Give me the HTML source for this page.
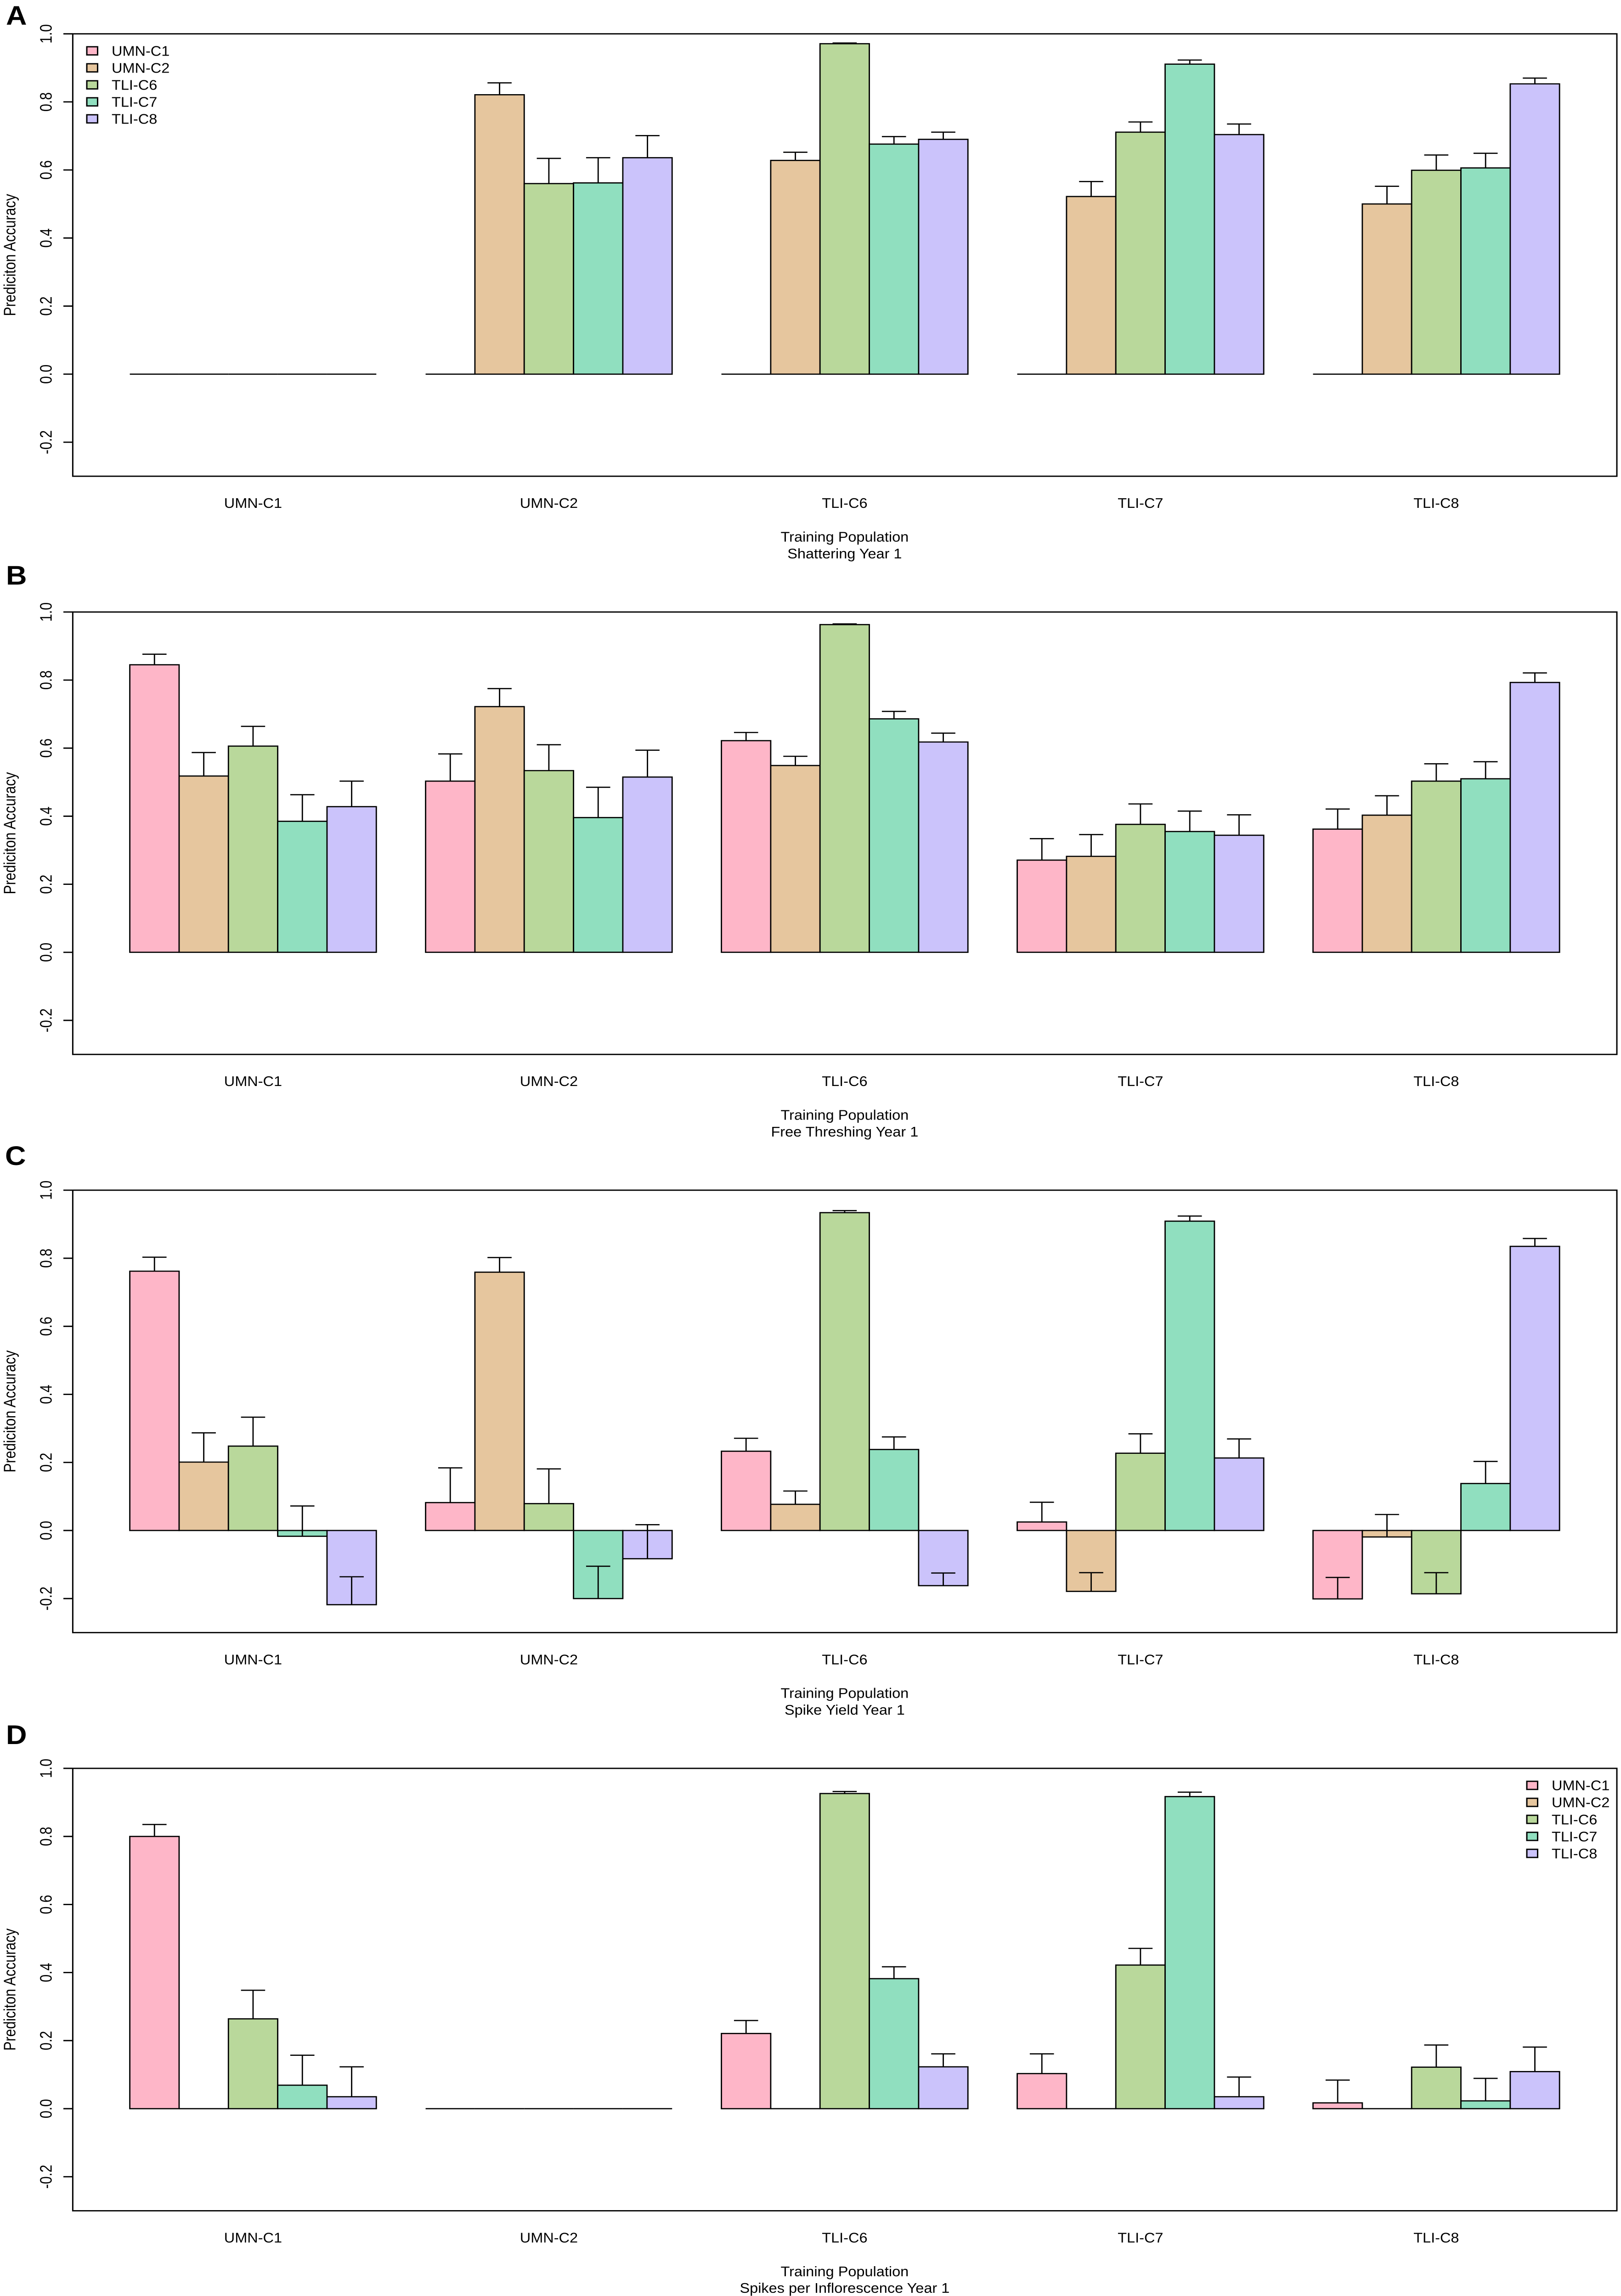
<!DOCTYPE html>
<html lang="en">
<head>
<meta charset="utf-8">
<title>Prediction accuracy by training population</title>
<style>
html,body{margin:0;padding:0;background:#fff;width:3529px;height:100%;max-height:5361px;overflow:hidden;}
svg{display:block;overflow:hidden;width:3529px;height:min(5361px,100vh);font-family:"Liberation Sans",Arial,sans-serif;}
text{fill:#000;}
script{display:none;}
</style>
</head>
<body>
<svg id="figure" xmlns="http://www.w3.org/2000/svg" viewBox="0 0 3529 5361" preserveAspectRatio="none">
<rect x="0" y="0" width="3529" height="5361" fill="#ffffff"/>
</svg>
<script>
// ---- shared labels ----
const categories = ['UMN-C1', 'UMN-C2', 'TLI-C6', 'TLI-C7', 'TLI-C8'];
const seriesNames = ['UMN-C1', 'UMN-C2', 'TLI-C6', 'TLI-C7', 'TLI-C8'];
const yTickValues = [-0.2, 0, 0.2, 0.4, 0.6, 0.8, 1.0];
const yTickLabels = ['-0.2', '0.0', '0.2', '0.4', '0.6', '0.8', '1.0'];
const yAxisTitle = 'Prediciton Accuracy';
const xAxisTitle = 'Training Population';

// ---- Panel A: Shattering Year 1 (one row per training population, one column per series) ----
const shatteringValues = [
  [0, 0, 0, 0, 0],
  [0, 0.821, 0.560, 0.562, 0.636],
  [0, 0.628, 0.971, 0.676, 0.690],
  [0, 0.522, 0.711, 0.911, 0.704],
  [0, 0.500, 0.599, 0.606, 0.853]
];
const shatteringUpper = [
  [null, null, null, null, null],
  [null, 0.856, 0.634, 0.636, 0.701],
  [null, 0.652, 0.973, 0.698, 0.711],
  [null, 0.566, 0.741, 0.923, 0.735],
  [null, 0.552, 0.644, 0.649, 0.870]
];

// ---- Panel B: Free Threshing Year 1 ----
const threshingValues = [
  [0.845, 0.518, 0.606, 0.385, 0.428],
  [0.503, 0.722, 0.534, 0.396, 0.515],
  [0.622, 0.549, 0.963, 0.686, 0.618],
  [0.271, 0.282, 0.376, 0.355, 0.344],
  [0.362, 0.403, 0.503, 0.510, 0.793]
];
const threshingUpper = [
  [0.876, 0.587, 0.664, 0.463, 0.503],
  [0.583, 0.775, 0.610, 0.485, 0.594],
  [0.646, 0.576, 0.965, 0.708, 0.644],
  [0.334, 0.346, 0.436, 0.415, 0.404],
  [0.421, 0.460, 0.554, 0.560, 0.821]
];

// ---- Panel C: Spike Yield Year 1 ----
const spikeYieldValues = [
  [0.762, 0.201, 0.248, -0.017, -0.218],
  [0.082, 0.759, 0.079, -0.200, -0.083],
  [0.233, 0.077, 0.934, 0.238, -0.162],
  [0.025, -0.179, 0.227, 0.909, 0.213],
  [-0.201, -0.019, -0.186, 0.138, 0.835]
];
const spikeYieldUpper = [
  [0.803, 0.287, 0.333, 0.072, -0.136],
  [0.184, 0.802, 0.181, -0.105, 0.017],
  [0.271, 0.116, 0.940, 0.275, -0.125],
  [0.083, -0.124, 0.284, 0.924, 0.269],
  [-0.138, 0.047, -0.124, 0.203, 0.858]
];

// ---- Panel D: Spikes per Inflorescence Year 1 ----
const spikesPerInfValues = [
  [0.800, 0, 0.264, 0.069, 0.035],
  [0, 0, 0, 0, 0],
  [0.221, 0, 0.926, 0.382, 0.123],
  [0.103, 0, 0.422, 0.917, 0.035],
  [0.017, 0, 0.122, 0.023, 0.109]
];
const spikesPerInfUpper = [
  [0.835, null, 0.348, 0.157, 0.123],
  [null, null, null, null, null],
  [0.259, null, 0.932, 0.417, 0.161],
  [0.161, null, 0.471, 0.930, 0.093],
  [0.084, null, 0.187, 0.089, 0.181]
];

// ---- appearance ----
const palette = ['#FEB6C8', '#E6C69E', '#B9D89B', '#90DFBF', '#CBC3FB'];

const SVG_NS = 'http://www.w3.org/2000/svg';
const svg = document.getElementById('figure');
const FONT = 32.5;
const plotLeft = 158.4, plotRight = 3520;
const barStart = 282.6, barWidth = 107.33;
const unitHeight = 794.6;

function make(tag, attrs, parent) {
  const el = document.createElementNS(SVG_NS, tag);
  for (const k in attrs) el.setAttribute(k, attrs[k]);
  parent.appendChild(el);
  return el;
}
function xScale(group, series) { return barStart + (group * 6 + series) * barWidth; }
function yScale(top, v) { return top + (1 - v) * unitHeight; }

function drawPanel(cfg) {
  const top = cfg.top;
  const y = function (v) { return yScale(top, v); };
  const bottom = y(-0.3);

  const panel = make('g', {}, svg);
  
  

  const letter = make('text', {x: cfg.letterX, y: cfg.letterY, 'font-size': 63, 'font-weight': 'bold'}, panel);
  
  
  letter.textContent = cfg.letter;

  // bars
  cfg.values.forEach(function (row, g) {
    row.forEach(function (v, s) {
      const x0 = xScale(g, s), x1 = xScale(g, s + 1);
      const bar = make('path', {
        d: 'M' + x0 + ' ' + y(0) + 'H' + x1 + 'V' + y(v) + 'H' + x0 + 'Z',
        fill: palette[s], stroke: '#000', 'stroke-width': 2.8, 'stroke-linejoin': 'miter'
      }, panel);
      
      
    });
  });

  // error bars
  cfg.upper.forEach(function (row, g) {
    row.forEach(function (u, s) {
      if (u === null) return;
      const cx = xScale(g, s + 0.5);
      const err = make('path', {
        d: 'M' + cx + ' ' + y(cfg.values[g][s]) + 'V' + y(u) + 'M' + (cx - 26.3) + ' ' + y(u) + 'H' + (cx + 26.3),
        fill: 'none', stroke: '#000', 'stroke-width': 2.8
      }, panel);
      
      
    });
  });

  // frame
  const frame = make('rect', {
    x: plotLeft, y: top, width: plotRight - plotLeft, height: bottom - top,
    fill: 'none', stroke: '#000', 'stroke-width': 3
  }, panel);
  
  

  // y axis ticks and labels
  yTickValues.forEach(function (v, i) {
    const tick = make('line', {x1: 138, x2: plotLeft, y1: y(v), y2: y(v), stroke: '#000', 'stroke-width': 3}, panel);
    
    
    const label = make('text', {
      transform: 'translate(112.5 ' + y(v) + ') rotate(-90) scale(1 1.1)',
      'text-anchor': 'middle', 'font-size': FONT
    }, panel);
    
    
    label.textContent = yTickLabels[i];
  });

  const yTitle = make('text', {
    transform: 'translate(33.5 ' + ((top + bottom) / 2) + ') rotate(-90) scale(1 1.1)',
    'text-anchor': 'middle', 'font-size': FONT
  }, panel);
  
  
  yTitle.textContent = yAxisTitle;

  // x category labels
  categories.forEach(function (c, g) {
    const label = make('text', {
      x: xScale(g, 2.5), y: bottom + 74, 'text-anchor': 'middle', 'font-size': FONT
    }, panel);
    
    
    label.textContent = c;
  });

  const centerX = xScale(2, 2.5);
  const xTitle = make('text', {x: centerX, y: bottom + 152.7, 'text-anchor': 'middle', 'font-size': FONT}, panel);
  
  
  xTitle.textContent = xAxisTitle;

  const sub = make('text', {x: centerX, y: bottom + 191.7, 'text-anchor': 'middle', 'font-size': FONT}, panel);
  
  
  sub.textContent = cfg.subtitle;

  // legend
  if (cfg.legendX !== undefined) {
    const legend = make('g', {}, panel);
    
    
    seriesNames.forEach(function (name, i) {
      const cy = top + 39.7 * (i + 1);
      const swatch = make('rect', {
        x: cfg.legendX, y: cy - 9.5, width: 23.5, height: 19,
        fill: palette[i], stroke: '#000', 'stroke-width': 3
      }, legend);
      
      
      const text = make('text', {x: cfg.legendX + 54, y: cy + 11.5, 'font-size': FONT}, legend);
      
      
      text.textContent = name;
    });
  }
}

drawPanel({letter: 'A', letterX: 13, letterY: 58, top: 79, subtitle: 'Shattering Year 1',
  values: shatteringValues, upper: shatteringUpper, legendX: 189});
drawPanel({letter: 'B', letterX: 13, letterY: 1365, top: 1429, subtitle: 'Free Threshing Year 1',
  values: threshingValues, upper: threshingUpper});
drawPanel({letter: 'C', letterX: 11, letterY: 2720, top: 2779, subtitle: 'Spike Yield Year 1',
  values: spikeYieldValues, upper: spikeYieldUpper});
drawPanel({letter: 'D', letterX: 13, letterY: 4072, top: 4129, subtitle: 'Spikes per Inflorescence Year 1',
  values: spikesPerInfValues, upper: spikesPerInfUpper, legendX: 3324});
</script>
</body>
</html>
